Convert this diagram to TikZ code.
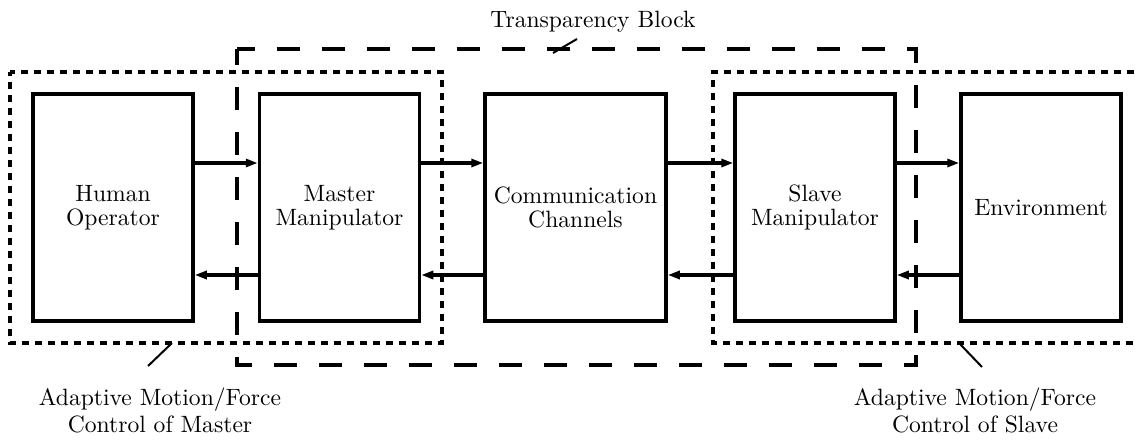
\documentclass[tikz,border=0pt]{standalone}
\usepackage{fontspec}
\setmainfont{lmroman10-regular.otf}
\usetikzlibrary{arrows.meta}
\begin{document}
\begin{tikzpicture}[x=1pt,y=-1pt,
  blk/.style={draw, line width=3.5pt, inner sep=0pt, minimum height=227pt,
    align=center, font=\fontsize{23.6}{23.5}\selectfont},
  arr/.style={line width=3.2pt, -{Triangle[length=12pt,width=8pt]}},
  tblock/.style={line width=4pt, dash pattern=on 23pt off 22pt, dash phase=5.5pt},
  ctrlbox/.style={line width=3.2pt, dash pattern=on 7pt off 6pt, dash phase=2pt},
  leader/.style={line width=2pt},
  lbl/.style={anchor=base, inner sep=0pt, font=\fontsize{23.6}{27}\selectfont}
  ]
\useasboundingbox (0,0) rectangle (1135,442);
% regions
\draw[tblock] (237,49) -- (916,49) -- (916,365) -- (237,365) -- cycle;
\draw[ctrlbox] (10,72) -- (442,72) -- (442,343) -- (10,343) -- cycle;
\draw[ctrlbox] (1145,72) -- (713,72) -- (713,343) -- (1145,343);
% blocks
\node[blk, minimum width=160pt] (H) at (113,207.5) {Human\\Operator};
\node[blk, minimum width=160pt] (M) at (339.5,207.5) {Master\\Manipulator};
\node[blk, minimum width=181pt] (C) at (575.5,207.5) {Communication\\Channels};
\node[blk, minimum width=160pt] (S) at (815,207.5) {Slave\\Manipulator};
\node[blk, minimum width=160pt] (E) at (1041,207.5) {Environment};
\coordinate (top) at (0,163);
\coordinate (bot) at (0,275);
% forward arrows
\draw[arr] (H.east |- top) -- (M.west |- top);
\draw[arr] (M.east |- top) -- (C.west |- top);
\draw[arr] (C.east |- top) -- (S.west |- top);
\draw[arr] (S.east |- top) -- (E.west |- top);
% backward arrows
\draw[arr] (M.west |- bot) -- (H.east |- bot);
\draw[arr] (C.west |- bot) -- (M.east |- bot);
\draw[arr] (S.west |- bot) -- (C.east |- bot);
\draw[arr] (E.west |- bot) -- (S.east |- bot);
% labels
\node[lbl] (tbl) at (593,27) {Transparency Block};
\coordinate (tb1) at (553,53);
\coordinate (tb2) at (577,39);
\draw[leader] (tb1) -- (tb2);
\node[lbl] (lm1) at (160,405) {Adaptive Motion/Force};
\node[lbl] (lm2) at (160,432) {Control of Master};
\coordinate (lm3) at (148,366);
\coordinate (lm4) at (172,343);
\draw[leader] (lm3) -- (lm4);
\node[lbl] (ls1) at (975,405) {Adaptive Motion/Force};
\node[lbl] (ls2) at (975,432) {Control of Slave};
\coordinate (ls3) at (959,343);
\coordinate (ls4) at (982,367);
\draw[leader] (ls3) -- (ls4);
\end{tikzpicture}
\end{document}
